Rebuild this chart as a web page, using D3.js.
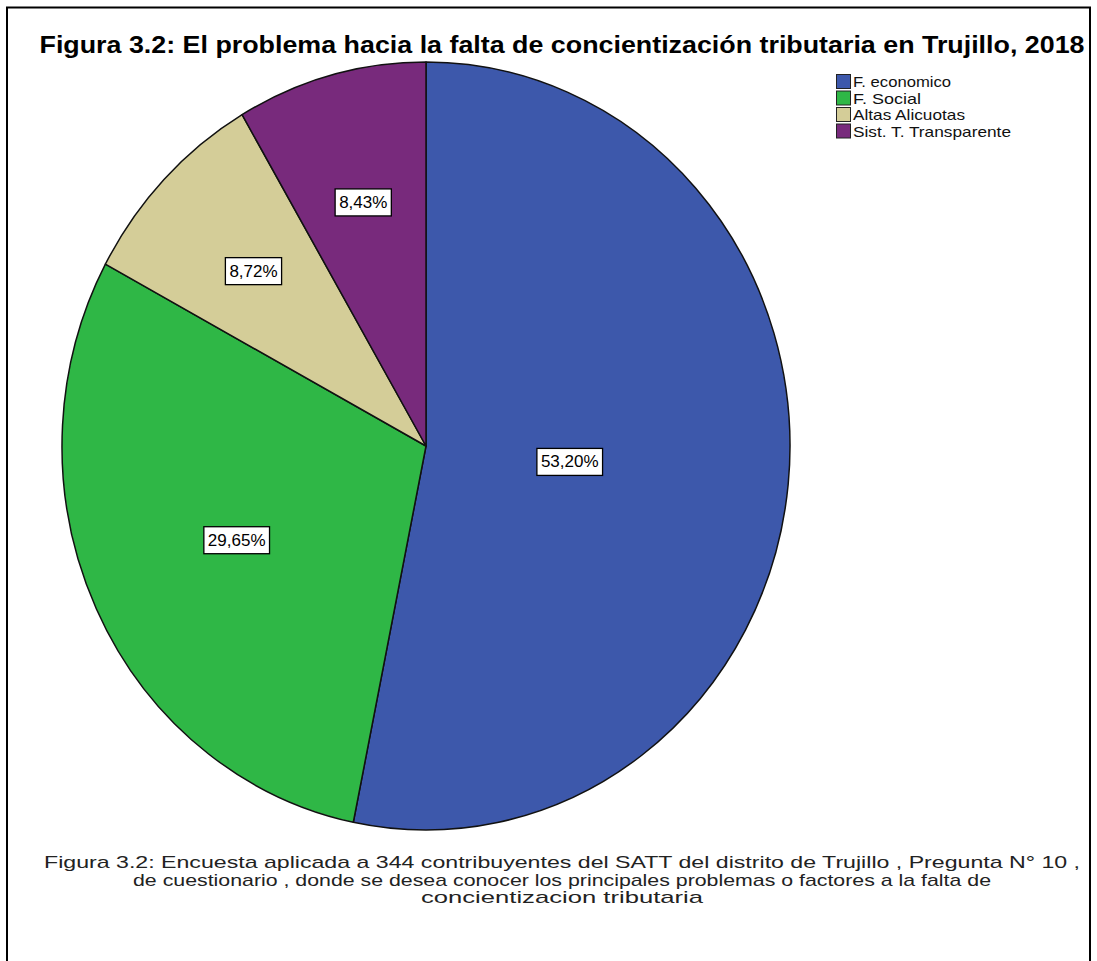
<!DOCTYPE html>
<html>
<head>
<meta charset="utf-8">
<script src="https://cdn.jsdelivr.net/npm/d3@7"></script>
<style>
  html, body { margin: 0; padding: 0; background: #fff; }
  svg { display: block; }
</style>
</head>
<body>
<svg id="chart" width="1097" height="961"></svg>
<script>
// Survey answers: main factor behind the lack of tax awareness
const categories = ["F. economico", "F. Social", "Altas Alicuotas", "Sist. T. Transparente"];
const percents = [53.20, 29.65, 8.72, 8.43];
const colors = ["#3d58ab", "#2fb746", "#d4cd98", "#782a7c"];

const titleText = "Figura 3.2: El problema hacia la falta de concientización tributaria en Trujillo, 2018";
const noteLines = [
  "Figura 3.2: Encuesta aplicada a 344 contribuyentes del SATT del distrito de Trujillo , Pregunta N° 10 ,",
  "de  cuestionario , donde se desea conocer los principales problemas o factores a la falta de",
  "concientizacion tributaria"
];

const svg = d3.select("#chart");

// outer frame (bottom edge runs past the page)
svg.append("path")
  .attr("d", `M7,975 L7,7.5 L1090,7.5 L1090,975`)
  .attr("fill", "none").attr("stroke", "#000").attr("stroke-width", 2);

// title
svg.append("text")
  .attr("x", 562).attr("y", 53)
  .attr("text-anchor", "middle")
  .attr("font-family", "'Liberation Sans', Arial, sans-serif")
  .attr("font-weight", "bold")
  .attr("font-size", 23)
  .attr("textLength", 1045)
  .attr("lengthAdjust", "spacingAndGlyphs")
  .attr("fill", "#000")
  .text(titleText);

// pie geometry (slightly taller than wide)
const cx = 426, cy = 446, rx = 364, ry = 384;

const pie = d3.pie().sort(null).value(d => d)(percents);
const arc = d3.arc().innerRadius(0).outerRadius(ry);

const g = svg.append("g")
  .attr("transform", `translate(${cx},${cy}) scale(${rx / ry},1)`);

g.selectAll("path.slice")
  .data(pie)
  .join("path")
  .attr("class", "slice")
  .attr("d", arc)
  .attr("fill", (d, i) => colors[i])
  .attr("stroke", "#111")
  .attr("stroke-width", 1.5)
  .attr("vector-effect", "non-scaling-stroke")
  .attr("stroke-linejoin", "round");

// value labels at each sector's area centroid
const fmt = v => v.toFixed(2).replace(".", ",") + "%";
const labels = svg.append("g");
pie.forEach((d, i) => {
  const half = (d.endAngle - d.startAngle) / 2;
  const mid = d.startAngle + half;
  const k = (2 / 3) * Math.sin(half) / half;
  const x = cx + rx * k * Math.sin(mid);
  const y = cy - ry * k * Math.cos(mid);
  const lg = labels.append("g").attr("transform", `translate(${x},${y})`);
  const t = lg.append("text")
    .attr("text-anchor", "middle")
    .attr("dy", "0.36em")
    .attr("font-family", "'Liberation Sans', Arial, sans-serif")
    .attr("font-size", 17)
    .attr("fill", "#000")
    .text(fmt(d.data));
  const bb = t.node().getBBox();
  lg.insert("rect", "text")
    .attr("x", bb.x - 4).attr("y", bb.y - 4)
    .attr("width", bb.width + 8).attr("height", bb.height + 8)
    .attr("fill", "#fff").attr("stroke", "#000").attr("stroke-width", 1.3);
});

// legend
const legend = svg.append("g").attr("transform", "translate(836,74)");
categories.forEach((c, i) => {
  const row = legend.append("g").attr("transform", `translate(0,${i * 16.5})`);
  row.append("rect")
    .attr("x", 0.5).attr("y", 0.5).attr("width", 14).attr("height", 14)
    .attr("fill", colors[i]).attr("stroke", "#222").attr("stroke-width", 1);
  row.append("text")
    .attr("x", 17).attr("y", 13)
    .attr("font-family", "'Liberation Sans', Arial, sans-serif")
    .attr("font-size", 15)
    .attr("textLength", [98, 68, 112, 158][i])
    .attr("lengthAdjust", "spacingAndGlyphs")
    .attr("fill", "#111")
    .text(c);
});

// note under the chart
const noteWidths = [1036, 858, 282];
noteLines.forEach((line, i) => {
  svg.append("text")
    .attr("x", 562).attr("y", 868 + i * 17.5)
    .attr("text-anchor", "middle")
    .attr("font-family", "'Liberation Sans', Arial, sans-serif")
    .attr("font-size", 17)
    .attr("textLength", noteWidths[i])
    .attr("lengthAdjust", "spacingAndGlyphs")
    .attr("fill", "#222")
    .text(line);
});
</script>
</body>
</html>
